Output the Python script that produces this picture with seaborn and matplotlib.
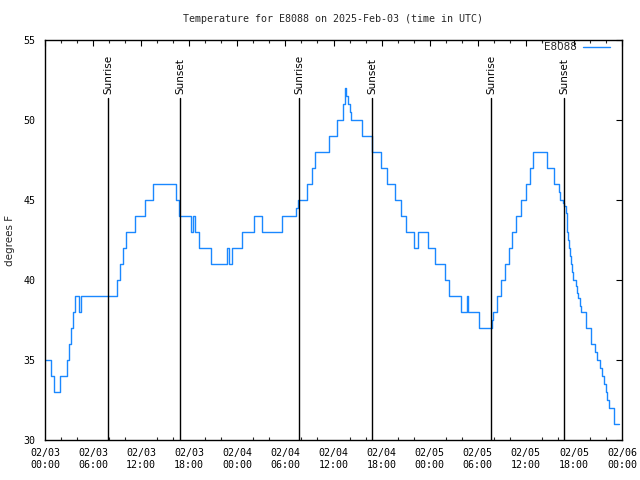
import matplotlib
matplotlib.use("Agg")
import matplotlib.pyplot as plt
import matplotlib.dates as mdates
import seaborn as sns
import pandas as pd

# ---- data (hours since 2025-02-03 00:00 UTC, temperature in F), step changes ----
hours = [0.0, 0.75, 1.15, 1.9, 2.8, 3.0, 3.2, 3.45, 3.7, 4.2, 4.45,
         8.95, 9.3, 9.7, 10.1, 11.2, 12.5, 13.5, 16.3, 16.7,
         18.2, 18.45, 18.75, 19.2, 20.7, 22.7, 23.0, 23.3, 24.6, 26.1, 27.1,
         29.6, 31.3, 31.6, 32.7, 33.3, 33.7, 35.45, 36.4, 37.15, 37.4, 37.6,
         37.8, 38.0, 38.2, 39.55, 40.8, 41.9, 42.7, 43.65, 44.4, 45.1, 46.1,
         46.5, 47.85, 48.7, 49.9, 50.4, 51.9, 52.6, 52.8, 54.1,
         55.75, 55.9, 56.4, 56.9, 57.4, 57.9, 58.3, 58.8, 59.4, 60.05, 60.5,
         60.9, 62.6, 63.5, 64.1, 64.3, 64.6, 64.8, 64.97, 65.1, 65.17, 65.3,
         65.42, 65.5, 65.63, 65.75, 65.88, 66.2, 66.35, 66.55, 66.75, 66.9,
         67.5, 68.1, 68.6, 68.9, 69.2, 69.5, 69.75, 70.0, 70.15, 70.35, 71.05,
         71.6]
temps = [35, 34, 33, 34, 35, 36, 37, 38, 39, 38, 39,
         40, 41, 42, 43, 44, 45, 46, 45, 44,
         43, 44, 43, 42, 41, 42, 41, 42, 43, 44, 43,
         44, 44.5, 45, 46, 47, 48, 49, 50, 51, 52, 51.5,
         51, 50.5, 50, 49, 48, 47, 46, 45, 44, 43, 42,
         43, 42, 41, 40, 39, 38, 39, 38, 37,
         37.5, 38, 39, 40, 41, 42, 43, 44, 45, 46, 47,
         48, 47, 46, 45.5, 45, 44.8, 44.6, 44.2, 43.6, 43, 42.5,
         42, 41.5, 41, 40.5, 40, 39.6, 39.2, 38.9, 38.4, 38,
         37, 36, 35.5, 35, 34.5, 34, 33.5, 33, 32.5, 32, 31,
         31]

sun_hours = [7.85, 16.85, 31.7, 40.8, 55.65, 64.75]
sun_labels = ["Sunrise", "Sunset", "Sunrise", "Sunset", "Sunrise", "Sunset"]

series_name = "E8088"
title = "Temperature for E8088 on 2025-Feb-03 (time in UTC)"
ylabel = "degrees F"
start = pd.Timestamp("2025-02-03 00:00")
end = pd.Timestamp("2025-02-06 00:00")

df = pd.DataFrame({
    "time": start + pd.to_timedelta(hours, unit="h"),
    "temp": temps,
})

sns.set_style("white")
plt.rcParams["font.family"] = ["DejaVu Sans"]

fig = plt.figure(figsize=(6.4, 4.8), dpi=100)
ax = fig.add_axes([45 / 640, 40 / 480, 577 / 640, 400 / 480])

sns.lineplot(data=df, x="time", y="temp", ax=ax, drawstyle="steps-post",
             color="#1a88ff", linewidth=1.0, label=series_name, estimator=None)

ax.set_xlim(start, end)
ax.set_ylim(30, 55)
ax.set_yticks([30, 35, 40, 45, 50, 55])

ax.xaxis.set_major_locator(mdates.HourLocator(byhour=range(0, 24, 6)))
ax.xaxis.set_minor_locator(mdates.HourLocator(byhour=range(0, 24, 2)))
ax.xaxis.set_major_formatter(mdates.DateFormatter("%m/%d\n%H:%M"))

mono = {"family": "DejaVu Sans Mono", "size": 7.2}
for lab in ax.get_xticklabels() + ax.get_yticklabels():
    lab.set_fontfamily("DejaVu Sans Mono")
    lab.set_fontsize(7.2)

ax.tick_params(axis="both", which="major", direction="in", length=4.5, width=0.8,
               top=True, right=True, colors="black", pad=5)
ax.tick_params(axis="x", which="minor", direction="in", length=2.5, width=0.8,
               top=True, bottom=True)
ax.tick_params(axis="y", which="major", pad=7)
ax.tick_params(axis="x", which="major", pad=6)
for s in ax.spines.values():
    s.set_color("black")
    s.set_linewidth(1.0)
    s.set_visible(True)

ax.set_xlabel("")
ax.set_ylabel("")

for h, lab in zip(sun_hours, sun_labels):
    t = start + pd.Timedelta(hours=h)
    ax.axvline(t, ymin=0, ymax=0.855, color="black", linewidth=1.0)
    ax.text(t, 0.866, lab, transform=ax.get_xaxis_transform(), rotation=90,
            ha="center", va="bottom", fontsize=7.5, color="black")

leg = ax.legend(loc="upper right", bbox_to_anchor=(0.9865, 1.005),
                frameon=False, markerfirst=False, fontsize=7.5,
                handlelength=2.6, borderaxespad=0.0, handletextpad=0.6)

fig.text(333 / 640, 1 - 19 / 480, title, ha="center", va="center",
         fontdict=mono)
fig.text(10 / 640, 1 - 240 / 480, ylabel, rotation=90, ha="center",
         va="center", fontsize=7.5)

fig.savefig("out.png", dpi=100)
